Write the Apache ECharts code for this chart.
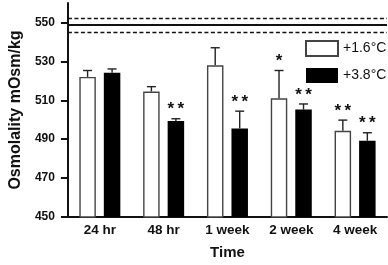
<!DOCTYPE html>
<html><head><meta charset="utf-8">
<script src="https://cdn.jsdelivr.net/npm/echarts@6/dist/echarts.min.js"></script>
<style>html,body{margin:0;padding:0;background:#fff}#c{width:388px;height:265px}</style>
</head><body><div id="c"></div>
<script>
const categories = ['24 hr', '48 hr', '1 week', '2 week', '4 week'];
const seriesNames = ['+1.6°C', '+3.8°C'];
const warmLow = [522, 514.5, 528, 511, 494.3];
const warmLowErr = [3.3, 2.5, 9, 14.3, 5.5];
const warmLowSig = ['', '', '', '*', '**'];
const warmHigh = [524.2, 499.3, 495.5, 505.2, 489.2];
const warmHighErr = [1.9, 1.2, 8.9, 2.9, 4.1];
const warmHighSig = ['', '**', '**', '**', '**'];
const refLines = [552, 548.8, 545];
const refStyles = ['dashed', 'solid', 'dashed'];
const yTicks = [450, 470, 490, 510, 530, 550];

const FONT = '"Liberation Sans", Arial, Helvetica, sans-serif';
const BW = 16.5, GAP = 8;
const OFF = (BW + GAP) / 2;

function errSeries(vals, errs, sigs, sign) {
  return {
    type: 'custom', silent: true, z: 5,
    data: vals.map((v, i) => [i, v, errs[i]]),
    renderItem: function (params, api) {
      const i = api.value(0), v = api.value(1), e = api.value(2);
      const b = api.coord([i, v]);
      const t = api.coord([i, v + e]);
      const x = b[0] + sign * OFF;
      const st = { stroke: '#222', lineWidth: 1.4 };
      const ch = [
        { type: 'line', shape: { x1: x, y1: b[1], x2: x, y2: t[1] }, style: st },
        { type: 'line', shape: { x1: x - 4.5, y1: t[1], x2: x + 4.5, y2: t[1] }, style: st }
      ];
      const s = sigs[params.dataIndex];
      if (s) {
        ch.push({ type: 'text', style: { x: x, y: t[1] - 9, text: s.split('').join('\u2009'), align: 'center', verticalAlign: 'middle',
          font: 'bold 17px ' + FONT, fill: '#111' } });
      }
      return { type: 'group', children: ch };
    }
  };
}

const chart = echarts.init(document.getElementById('c'));
chart.setOption({
  animation: false,
  backgroundColor: '#fff',
  grid: { left: 57, right: 1, top: 3, bottom: 44, containLabel: false },
  legend: {
    data: seriesNames, orient: 'vertical', left: 305, top: 40, icon: 'rect',
    itemWidth: 32, itemHeight: 15, itemGap: 11,
    textStyle: { fontFamily: FONT, fontSize: 14, color: '#111', padding: [0, 0, 0, 0] },
    padding: 0, selectedMode: false
  },
  xAxis: {
    type: 'category', data: categories,
    name: 'Time', nameLocation: 'middle', nameGap: 28,
    nameTextStyle: { fontFamily: FONT, fontSize: 15, fontWeight: 'bold', color: '#111' },
    axisLine: { lineStyle: { color: '#111', width: 2 } },
    axisTick: { show: false },
    axisLabel: { fontFamily: FONT, fontSize: 13.5, fontWeight: 'bold', color: '#111', margin: 6 }
  },
  yAxis: {
    type: 'value', min: 450, max: 560,
    name: 'Osmolality mOsm/kg', nameLocation: 'middle', nameGap: 42.5, nameRotate: 90,
    nameTextStyle: { fontFamily: FONT, fontSize: 16, fontWeight: 'bold', color: '#111' },
    axisLine: { show: true, lineStyle: { color: '#111', width: 2 } },
    axisTick: { show: true, length: 7, lineStyle: { width: 2, color: '#111' }, customValues: yTicks },
    axisLabel: { fontFamily: FONT, fontSize: 12, fontWeight: 'bold', color: '#111', margin: 13, customValues: yTicks },
    splitLine: { show: false }
  },
  series: [
    {
      name: seriesNames[0], type: 'bar', data: warmLow, barWidth: BW, barGap: (GAP / BW * 100) + '%',
      itemStyle: { color: '#fff', borderColor: '#444', borderWidth: 1.4 },
      markLine: {
        silent: true, symbol: ['none', 'none'], label: { show: false },
        data: refLines.map((v, i) => ({ yAxis: v, lineStyle: {
          type: refStyles[i] === 'dashed' ? [4, 2.5] : 'solid',
          width: refStyles[i] === 'dashed' ? 1.3 : 2, color: '#111' } }))
      }
    },
    {
      name: seriesNames[1], type: 'bar', data: warmHigh, barWidth: BW,
      itemStyle: { color: '#000', borderColor: '#000', borderWidth: 0 }
    },
    errSeries(warmLow, warmLowErr, warmLowSig, -1),
    errSeries(warmHigh, warmHighErr, warmHighSig, 1)
  ]
});
</script></body></html>
